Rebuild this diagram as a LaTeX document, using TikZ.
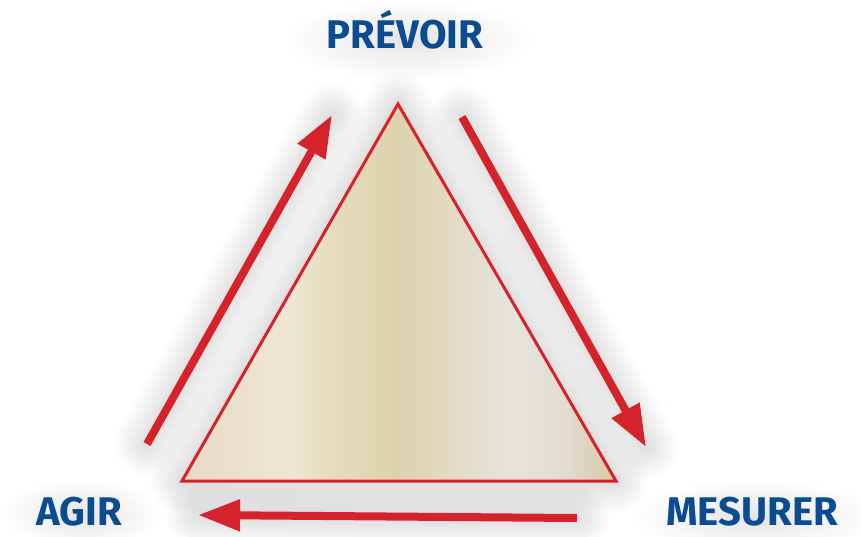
\documentclass[tikz,border=0pt]{standalone}
\usepackage{fontspec}
\setmainfont{Fira Sans}
\usetikzlibrary{arrows.meta,fadings}

\definecolor{arrowred}{HTML}{D4232B}
\definecolor{labelblue}{HTML}{0B4C91}
\definecolor{sandA}{HTML}{E8D9C5}
\definecolor{sandB}{HTML}{EDE8D3}
\definecolor{sandC}{HTML}{E6DCBE}
\definecolor{sandD}{HTML}{DED2AE}
\definecolor{sandE}{HTML}{E2DAC3}
\definecolor{sandF}{HTML}{E6E4DE}
\definecolor{sandG}{HTML}{E2DDD2}
\definecolor{sandH}{HTML}{D9CBA8}

% vertical bands of the pyramid fill, left to right
\pgfdeclarehorizontalshading{pyramidfill}{100bp}{%
  color(0bp)=(sandA); color(25bp)=(sandA); color(37.5bp)=(sandB);
  color(42bp)=(sandC); color(49.6bp)=(sandD); color(56bp)=(sandE);
  color(63bp)=(sandF); color(68.6bp)=(sandG); color(75bp)=(sandH);
  color(100bp)=(sandH)}

\tikzfading[name=glowfade, inner color=transparent!15, outer color=transparent!100]

\tikzset{
  cyclearrow/.style={arrowred, line width=8pt,
    -{Triangle[length=42pt,width=30pt]}},
  halo/.style={black, line join=round, line cap=round, opacity=0.008},
  caption/.style={labelblue, anchor=base, inner sep=0pt,
    font=\fontsize{40}{42}\selectfont\bfseries},
}

\begin{document}
\begin{tikzpicture}[x=1pt,y=-1pt]
\useasboundingbox (0,0) rectangle (861,536);
\fill[white] (0,0) rectangle (861,536);

% corners of the pyramid and ends of the three arrows
\coordinate (top) at (398,104);
\coordinate (bl) at (182,481);
\coordinate (br) at (616,481);
\coordinate (upTail) at (147,444);
\coordinate (upTip) at (332,115);
\coordinate (downTail) at (462,117);
\coordinate (downTip) at (646,447);
\coordinate (backTail) at (577,518);
\coordinate (backTip) at (198,515);

% soft grey halos behind the labels
\fill[black, opacity=0.12, path fading=glowfade] (408,40) ellipse (125 and 40);
\fill[black, opacity=0.12, path fading=glowfade] (82,514) ellipse (80 and 36);
\fill[black, opacity=0.12, path fading=glowfade] (755,517) ellipse (125 and 38);

% soft grey halos behind the pyramid and the arrows
\begin{scope}[shift={(4,4)}]
\foreach \w in {64,60,...,8} {
  \draw[halo, line width=\w pt] (top) -- (bl) -- (br) -- cycle;
  \draw[halo, line width=\w pt] (upTail) -- (upTip);
  \draw[halo, line width=\w pt] (downTail) -- (downTip);
  \draw[halo, line width=\w pt] (backTail) -- (backTip);
}
\end{scope}

% the pyramid
\path[shading=pyramidfill, draw=arrowred, line width=3pt, line join=miter]
  (top) -- (bl) -- (br) -- cycle;

% the cycle arrows
\draw[cyclearrow] (upTail) -- (upTip);
\draw[cyclearrow] (downTail) -- (downTip);
\draw[cyclearrow] (backTail) -- (backTip);

% labels
\node[caption] (prevoir) at (405,48) {PRÉVOIR};
\node[caption] (agir) at (79,525) {AGIR};
\node[caption] (mesurer) at (752,525) {MESURER};
\end{tikzpicture}
\end{document}
